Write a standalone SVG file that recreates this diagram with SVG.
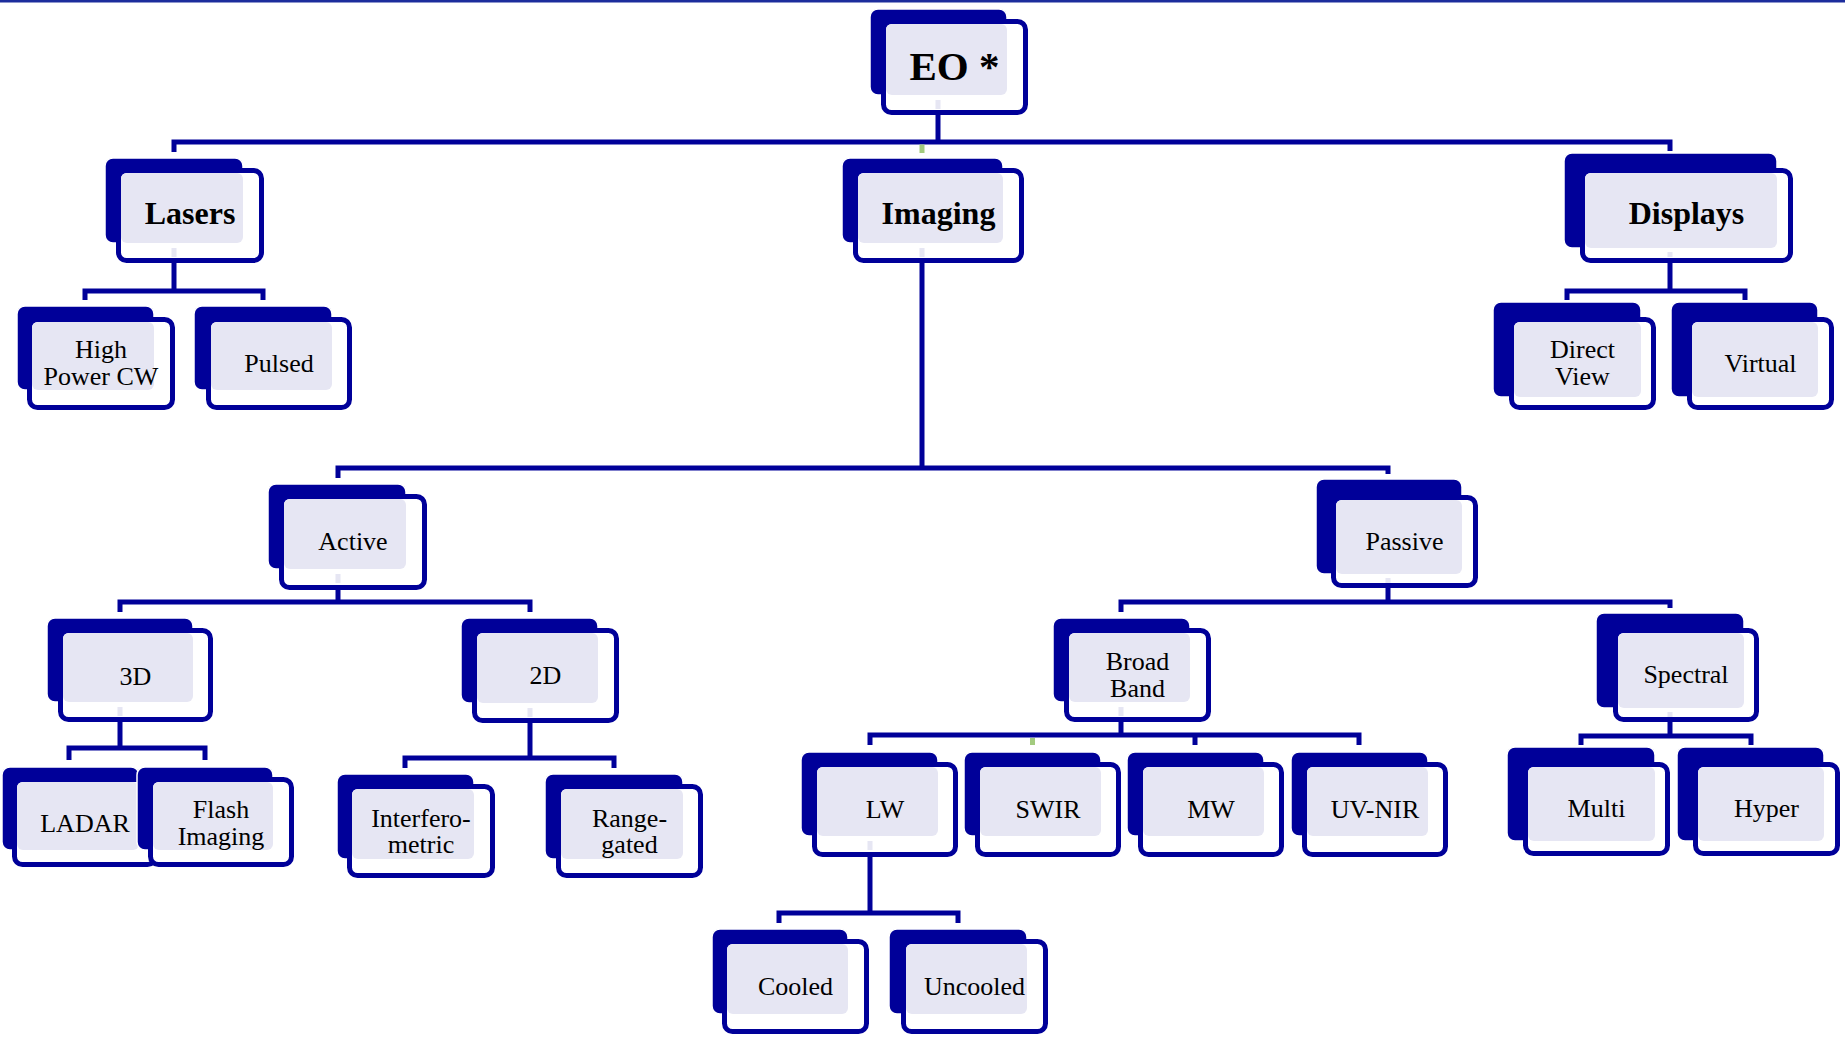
<svg xmlns="http://www.w3.org/2000/svg" width="1845" height="1038" viewBox="0 0 1845 1038">
<style>
.bk{fill:#000099;stroke:#ffffff;stroke-width:1.5}
.fr{fill:#ffffff;stroke:#000099;stroke-width:5}
.lv{fill:#E6E6F3}
.c{fill:none;stroke:#000099;stroke-width:5;stroke-linejoin:miter}
.g{fill:#A3CB7F}
.t{font-family:"Liberation Serif","Times New Roman",serif;font-size:26px;fill:#000;text-anchor:middle}
.b{font-weight:bold;font-size:32px}
</style>
<rect x="0" y="0" width="1845" height="2.5" fill="#1c2c9c"/>
<g id="connectors">
<path class="c" d="M938,112 V142"/>
<path class="c" d="M174,152 V142 H1670 V151"/>
<rect class="g" x="919.5" y="144.5" width="5" height="8.5"/>
<path class="c" d="M174,261 V291"/>
<path class="c" d="M85,300 V291 H263 V300"/>
<path class="c" d="M922,261 V468"/>
<path class="c" d="M338,478 V468 H1388 V474"/>
<path class="c" d="M1670,261 V291"/>
<path class="c" d="M1567,300 V291 H1745 V300"/>
<path class="c" d="M338,588 V602"/>
<path class="c" d="M120,612 V602 H530 V612"/>
<path class="c" d="M120,720 V748"/>
<path class="c" d="M69,760 V748 H205 V760"/>
<path class="c" d="M530,721 V758"/>
<path class="c" d="M405,768 V758 H614 V768"/>
<path class="c" d="M1388,586 V602"/>
<path class="c" d="M1121,612 V602 H1670 V608"/>
<path class="c" d="M1121,720 V735"/>
<path class="c" d="M870,745 V735 H1359 V745"/>
<path class="c" d="M1195,735 V745"/>
<rect class="g" x="1030" y="738" width="5" height="7"/>
<path class="c" d="M1670,720 V736"/>
<path class="c" d="M1581,745 V736 H1751 V745"/>
<path class="c" d="M870,855 V913"/>
<path class="c" d="M779,923 V913 H958 V923"/>
</g>
<g id="n-eo">
<rect class="bk" x="870" y="9" width="137" height="86" rx="8"/>
<rect class="fr" x="883.5" y="21.5" width="142" height="91" rx="8"/>
<rect class="lv" x="886" y="24" width="121" height="71" rx="6"/>
<rect class="lv" x="935.5" y="100" width="5" height="9"/>
<text class="t b" x="954.5" y="80" style="font-size:41px">EO *</text>
</g>
<g id="n-lasers">
<rect class="bk" x="105" y="158" width="138" height="85" rx="8"/>
<rect class="fr" x="118.5" y="170.5" width="143" height="90" rx="8"/>
<rect class="lv" x="121" y="173" width="122" height="70" rx="6"/>
<rect class="lv" x="171.5" y="248" width="5" height="9"/>
<text class="t b" x="190" y="224">Lasers</text>
</g>
<g id="n-imaging">
<rect class="bk" x="842" y="158" width="161" height="85" rx="8"/>
<rect class="fr" x="855.5" y="170.5" width="166" height="90" rx="8"/>
<rect class="lv" x="858" y="173" width="145" height="70" rx="6"/>
<rect class="lv" x="919.5" y="248" width="5" height="9"/>
<text class="t b" x="938.5" y="224">Imaging</text>
</g>
<g id="n-displays">
<rect class="bk" x="1564" y="153" width="213" height="95" rx="8"/>
<rect class="fr" x="1582.5" y="170.5" width="208" height="90" rx="8"/>
<rect class="lv" x="1585" y="173" width="192" height="75" rx="6"/>
<rect class="lv" x="1667.5" y="252" width="5" height="5"/>
<text class="t b" x="1686.5" y="224">Displays</text>
</g>
<g id="n-highpower">
<rect class="bk" x="17" y="306" width="137" height="84" rx="8"/>
<rect class="fr" x="29.5" y="319.5" width="143" height="88" rx="8"/>
<rect class="lv" x="32" y="322" width="122" height="68" rx="6"/>
<text class="t" x="101" y="358">High</text>
<text class="t" x="101" y="385">Power CW</text>
</g>
<g id="n-pulsed">
<rect class="bk" x="194" y="306" width="138" height="84" rx="8"/>
<rect class="fr" x="208.5" y="319.5" width="141" height="88" rx="8"/>
<rect class="lv" x="211" y="322" width="121" height="68" rx="6"/>
<text class="t" x="279" y="372">Pulsed</text>
</g>
<g id="n-directview">
<rect class="bk" x="1493" y="302" width="148" height="95" rx="8"/>
<rect class="fr" x="1511.5" y="319.5" width="142" height="88" rx="8"/>
<rect class="lv" x="1514" y="322" width="127" height="75" rx="6"/>
<text class="t" x="1582.5" y="358">Direct</text>
<text class="t" x="1582.5" y="385">View</text>
</g>
<g id="n-virtual">
<rect class="bk" x="1671" y="302" width="147" height="95" rx="8"/>
<rect class="fr" x="1689.5" y="319.5" width="142" height="88" rx="8"/>
<rect class="lv" x="1692" y="322" width="126" height="75" rx="6"/>
<text class="t" x="1760.5" y="372">Virtual</text>
</g>
<g id="n-active">
<rect class="bk" x="268" y="484" width="138" height="85" rx="8"/>
<rect class="fr" x="281.5" y="496.5" width="143" height="91" rx="8"/>
<rect class="lv" x="284" y="499" width="122" height="70" rx="6"/>
<rect class="lv" x="335.5" y="574" width="5" height="9"/>
<text class="t" x="353" y="550">Active</text>
</g>
<g id="n-passive">
<rect class="bk" x="1316" y="479" width="146" height="95" rx="8"/>
<rect class="fr" x="1333.5" y="497.5" width="142" height="88" rx="8"/>
<rect class="lv" x="1336" y="500" width="126" height="74" rx="6"/>
<rect class="lv" x="1385.5" y="578" width="5" height="5"/>
<text class="t" x="1404.5" y="550">Passive</text>
</g>
<g id="n-3d">
<rect class="bk" x="47" y="618" width="146" height="84" rx="8"/>
<rect class="fr" x="60.5" y="630.5" width="150" height="89" rx="8"/>
<rect class="lv" x="63" y="633" width="130" height="69" rx="6"/>
<rect class="lv" x="117.5" y="707" width="5" height="9"/>
<text class="t" x="135.5" y="685">3D</text>
</g>
<g id="n-2d">
<rect class="bk" x="461" y="618" width="137" height="85" rx="8"/>
<rect class="fr" x="474.5" y="630.5" width="142" height="90" rx="8"/>
<rect class="lv" x="477" y="633" width="121" height="70" rx="6"/>
<rect class="lv" x="527.5" y="708" width="5" height="9"/>
<text class="t" x="545.5" y="684">2D</text>
</g>
<g id="n-broadband">
<rect class="bk" x="1053" y="618" width="137" height="84" rx="8"/>
<rect class="fr" x="1066.5" y="630.5" width="142" height="89" rx="8"/>
<rect class="lv" x="1069" y="633" width="121" height="69" rx="6"/>
<rect class="lv" x="1118.5" y="707" width="5" height="9"/>
<text class="t" x="1137.5" y="670">Broad</text>
<text class="t" x="1137.5" y="697">Band</text>
</g>
<g id="n-spectral">
<rect class="bk" x="1596" y="613" width="148" height="95" rx="8"/>
<rect class="fr" x="1615.5" y="630.5" width="141" height="89" rx="8"/>
<rect class="lv" x="1618" y="633" width="126" height="75" rx="6"/>
<rect class="lv" x="1667.5" y="712" width="5" height="5"/>
<text class="t" x="1686" y="683">Spectral</text>
</g>
<g id="n-ladar">
<rect class="bk" x="2" y="767" width="137" height="83" rx="8"/>
<rect class="fr" x="14.5" y="779.5" width="141" height="85" rx="8"/>
<rect class="lv" x="17" y="782" width="122" height="68" rx="6"/>
<text class="t" x="85" y="832">LADAR</text>
</g>
<g id="n-flash">
<rect class="bk" x="137" y="767" width="136" height="83" rx="8"/>
<rect class="fr" x="150.5" y="779.5" width="141" height="85" rx="8"/>
<rect class="lv" x="153" y="782" width="120" height="68" rx="6"/>
<text class="t" x="221" y="818">Flash</text>
<text class="t" x="221" y="845">Imaging</text>
</g>
<g id="n-interferometric">
<rect class="bk" x="337" y="774" width="137" height="85" rx="8"/>
<rect class="fr" x="349.5" y="786.5" width="143" height="89" rx="8"/>
<rect class="lv" x="352" y="789" width="122" height="70" rx="6"/>
<text class="t" x="421" y="827">Interfero-</text>
<text class="t" x="421" y="853">metric</text>
</g>
<g id="n-rangegated">
<rect class="bk" x="545" y="774" width="138" height="85" rx="8"/>
<rect class="fr" x="558.5" y="786.5" width="142" height="89" rx="8"/>
<rect class="lv" x="561" y="789" width="122" height="70" rx="6"/>
<text class="t" x="629.5" y="827">Range-</text>
<text class="t" x="629.5" y="853">gated</text>
</g>
<g id="n-lw">
<rect class="bk" x="801" y="752" width="137" height="84" rx="8"/>
<rect class="fr" x="814.5" y="764.5" width="141" height="90" rx="8"/>
<rect class="lv" x="817" y="767" width="121" height="69" rx="6"/>
<rect class="lv" x="867.5" y="841" width="5" height="9"/>
<text class="t" x="885" y="818">LW</text>
</g>
<g id="n-swir">
<rect class="bk" x="964" y="752" width="137" height="84" rx="8"/>
<rect class="fr" x="977.5" y="764.5" width="141" height="90" rx="8"/>
<rect class="lv" x="980" y="767" width="121" height="69" rx="6"/>
<text class="t" x="1048" y="818">SWIR</text>
</g>
<g id="n-mw">
<rect class="bk" x="1127" y="752" width="137" height="84" rx="8"/>
<rect class="fr" x="1140.5" y="764.5" width="141" height="90" rx="8"/>
<rect class="lv" x="1143" y="767" width="121" height="69" rx="6"/>
<text class="t" x="1211" y="818">MW</text>
</g>
<g id="n-uvnir">
<rect class="bk" x="1291" y="752" width="137" height="84" rx="8"/>
<rect class="fr" x="1304.5" y="764.5" width="141" height="90" rx="8"/>
<rect class="lv" x="1307" y="767" width="121" height="69" rx="6"/>
<text class="t" x="1375" y="818">UV-NIR</text>
</g>
<g id="n-multi">
<rect class="bk" x="1507" y="747" width="148" height="94" rx="8"/>
<rect class="fr" x="1525.5" y="764.5" width="142" height="89" rx="8"/>
<rect class="lv" x="1528" y="767" width="127" height="74" rx="6"/>
<text class="t" x="1596.5" y="817">Multi</text>
</g>
<g id="n-hyper">
<rect class="bk" x="1677" y="747" width="147" height="94" rx="8"/>
<rect class="fr" x="1695.5" y="764.5" width="142" height="89" rx="8"/>
<rect class="lv" x="1698" y="767" width="126" height="74" rx="6"/>
<text class="t" x="1766.5" y="817">Hyper</text>
</g>
<g id="n-cooled">
<rect class="bk" x="712" y="929" width="136" height="85" rx="8"/>
<rect class="fr" x="724.5" y="941.5" width="142" height="90" rx="8"/>
<rect class="lv" x="727" y="944" width="121" height="70" rx="6"/>
<text class="t" x="795.5" y="995">Cooled</text>
</g>
<g id="n-uncooled">
<rect class="bk" x="889" y="929" width="138" height="85" rx="8"/>
<rect class="fr" x="903.5" y="941.5" width="142" height="90" rx="8"/>
<rect class="lv" x="906" y="944" width="121" height="70" rx="6"/>
<text class="t" x="974.5" y="995">Uncooled</text>
</g>
</svg>
